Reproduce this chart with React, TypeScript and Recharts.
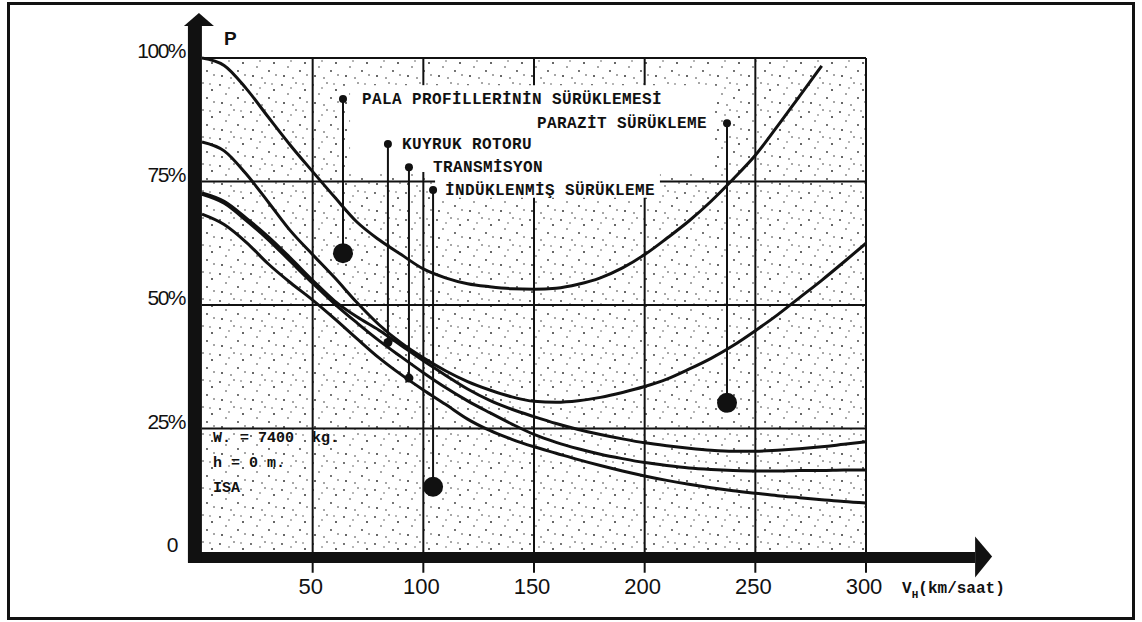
import React from 'react';
import { LineChart, Line, XAxis, YAxis, ReferenceLine, ReferenceArea, ReferenceDot } from 'recharts';

// V_H (km/saat)
const speeds = [0, 10, 20, 30, 40, 50, 60, 70, 80, 90, 100, 110, 120, 130, 140, 150, 160, 170, 180, 190, 200, 210, 220, 230, 240, 250, 260, 270, 280, 290, 300];

// P (%) - curves, top to bottom
const toplam = [100, 98.5, 93.8, 88, 82.3, 77, 71.8, 66.8, 63.2, 60.2, 57.3, 55.5, 54.3, 53.7, 53.3, 53.2, 53.4, 54.2, 55.5, 57.5, 60.2, 63.5, 67, 71, 75.5, 80.3, 86.2, 92.3, 98.4, null, null];
const parazitUst = [83, 81.2, 76.5, 70.8, 65, 60.2, 55.5, 50.5, 46, 42.3, 39.3, 36.7, 34.5, 32.8, 31.4, 30.5, 30.3, 30.6, 31.3, 32.3, 33.5, 35, 37, 39.2, 41.8, 44.8, 48, 51.5, 55, 58.7, 62.5];
const kuyrukUst = [72.7, 71, 67.6, 63.8, 59.5, 55, 50.8, 47.6, 44.9, 41.8, 38.7, 35.8, 33, 30.7, 28.9, 27.4, 26, 24.8, 23.8, 22.9, 22.1, 21.5, 21, 20.6, 20.4, 20.4, 20.6, 20.9, 21.3, 21.8, 22.3];
const transmisyonUst = [72.4, 70.6, 67.1, 63.2, 58.8, 54.4, 50.2, 46.4, 42.8, 39.5, 36.3, 33.3, 30.6, 28.2, 25.9, 23.8, 22.2, 20.9, 19.8, 18.9, 18.1, 17.5, 17, 16.7, 16.5, 16.4, 16.4, 16.5, 16.5, 16.6, 16.6];
const induklenmis = [68.4, 66.3, 62.7, 58.3, 54.5, 51, 47.2, 43.2, 39.3, 35.9, 32.8, 29.9, 26.9, 24.6, 22.8, 21.3, 20, 18.7, 17.5, 16.4, 15.4, 14.5, 13.7, 13, 12.4, 11.9, 11.4, 11, 10.6, 10.2, 9.9];

const xTicks = [50, 100, 150, 200, 250, 300];
const yTicks = [0, 25, 50, 75, 100];
const yTickLabels = ['0', '25%', '50%', '75%', '100%'];

// callouts: label, speed, top dot %, bottom marker %
const notLabels = ['PALA PROFİLLERİNİN SÜRÜKLEMESİ', 'KUYRUK ROTORU', 'TRANSMİSYON', 'İNDÜKLENMİŞ SÜRÜKLEME', 'PARAZİT SÜRÜKLEME'];
const notX = [63.7, 84, 93.5, 104.4, 237.2];
const notTop = [91.7, 82.6, 77.9, 73.3, 86.8];
const notBottom = [60.5, 42.4, 35.2, 13.2, 30.2];
const notBig = [true, false, false, true, true];

const infoLines = ['W. = 7400  kg.', 'h = 0 m.', 'ISA'];

const data = speeds.map((v, i) => ({
  v,
  toplam: toplam[i],
  parazitUst: parazitUst[i],
  kuyrukUst: kuyrukUst[i],
  transmisyonUst: transmisyonUst[i],
  induklenmis: induklenmis[i],
}));

const INK = '#111';
const MONO = "'Liberation Mono', 'DejaVu Sans Mono', monospace";
const SANS = "'Liberation Sans', Arial, sans-serif";

// white label box (in chart units): grid and stipple are left out of it
const boxA = { x1: 66.9, x2: 231.8, y1: 76.9, y2: 94.5 };
const boxB = { x1: 105.3, x2: 206.9, y1: 71.7, y2: 76.9 };

const stippleAreas = [
  { x1: 0, x2: 300, y1: 0, y2: boxB.y1 },
  { x1: 0, x2: boxB.x1, y1: boxB.y1, y2: boxA.y1 },
  { x1: boxB.x2, x2: 300, y1: boxB.y1, y2: boxA.y1 },
  { x1: 0, x2: boxA.x1, y1: boxA.y1, y2: boxA.y2 },
  { x1: boxA.x2, x2: 300, y1: boxA.y1, y2: boxA.y2 },
  { x1: 0, x2: 300, y1: boxA.y2, y2: 100 },
];

// vertical grid line pieces (skip the label box)
const vGrid = (t: number) => {
  if (t > boxA.x1 && t < boxA.x2) {
    const low = t > boxB.x1 && t < boxB.x2 ? boxB.y1 : boxA.y1;
    return [[0, low], [boxA.y2, 100]];
  }
  return [[0, 100]];
};
const hGrid = (t: number) => {
  if (t > boxB.y1 && t < boxB.y2) return [[0, boxB.x1], [boxB.x2, 300]];
  return [[0, 300]];
};

const stippleDots = [
  [3, 4, 0.9], [17, 2, 0.8], [26, 9, 1], [9, 13, 0.8], [21, 17, 0.9],
  [5, 22, 1], [14, 24, 0.8], [28, 21, 0.8], [12, 7, 0.7], [24, 3, 0.7],
];

const noteDx = [19, 14, 24, 12, -20];

const XTick = (props: any) => (
  <text x={props.x - 2} y={props.y + 42} textAnchor="middle" fontFamily={SANS} fontSize={22} fill={INK}>
    {props.payload.value}
  </text>
);

const YTick = (props: any) => (
  <text
    x={props.x - (props.payload.value === 0 ? 25 : 17)}
    y={props.y}
    textAnchor="end"
    fontFamily={SANS}
    fontSize={21}
    letterSpacing={-1.5}
    fill={INK}
  >
    {yTickLabels[yTicks.indexOf(props.payload.value)]}
  </text>
);

export default function App() {
  const curves = ['toplam', 'parazitUst', 'kuyrukUst', 'transmisyonUst', 'induklenmis'];
  return (
    <div style={{ position: 'absolute', left: 0, top: 0, width: 1142, height: 622, background: '#fff' }}>
      <div style={{ position: 'absolute', left: 7, top: 2, width: 1122, height: 612, border: `3px solid ${INK}` }} />
      <div style={{ position: 'absolute', left: 0, top: 0 }}>
        <LineChart width={1142} height={622} data={data} margin={{ top: 58, right: 276, bottom: 30, left: 142 }}>
          <defs>
            <pattern id="stipple" width={31} height={27} patternUnits="userSpaceOnUse">
              {stippleDots.map(([x, y, r], i) => (
                <circle key={i} cx={x} cy={y} r={r} fill="#333" />
              ))}
            </pattern>
          </defs>
          <XAxis
            dataKey="v"
            type="number"
            domain={[0, 300]}
            ticks={xTicks}
            axisLine={false}
            tickLine={false}
            tickSize={0}
            tickMargin={0}
            height={40}
            tick={<XTick />}
          />
          <YAxis
            type="number"
            domain={[0, 100]}
            ticks={yTicks}
            axisLine={false}
            tickLine={false}
            tickSize={0}
            tickMargin={0}
            width={60}
            tick={<YTick />}
          />
          {stippleAreas.map((a, i) => (
            <ReferenceArea key={'st' + i} {...a} fill="url(#stipple)" fillOpacity={1} stroke="none" />
          ))}
          {xTicks.map((t) =>
            vGrid(t).map(([a, b], j) => (
              <ReferenceLine
                key={'gx' + t + '-' + j}
                segment={[{ x: t, y: a }, { x: t, y: b }]}
                stroke={INK}
                strokeWidth={2}
              />
            ))
          )}
          {yTicks.slice(1).map((t) =>
            hGrid(t).map(([a, b], j) => (
              <ReferenceLine
                key={'gy' + t + '-' + j}
                segment={[{ x: a, y: t }, { x: b, y: t }]}
                stroke={INK}
                strokeWidth={2}
              />
            ))
          )}
          {xTicks.map((t) => (
            <ReferenceLine
              key={'tk' + t}
              segment={[{ x: t, y: 0 }, { x: t, y: -4.2 }]}
              stroke={INK}
              strokeWidth={2}
              ifOverflow="visible"
            />
          ))}

          {curves.map((k) => (
            <Line
              key={k}
              dataKey={k}
              type="monotone"
              stroke={INK}
              strokeWidth={3}
              dot={false}
              activeDot={false}
              connectNulls={false}
              isAnimationActive={false}
            />
          ))}

          {/* thick axes with arrows */}
          <ReferenceLine
            segment={[{ x: -6.3, y: -1.1 }, { x: 349.3, y: -1.1 }]}
            stroke={INK}
            strokeWidth={11}
            ifOverflow="visible"
          />
          <ReferenceLine
            segment={[{ x: -3.2, y: -2.2 }, { x: -3.2, y: 106.5 }]}
            stroke={INK}
            strokeWidth={14}
            ifOverflow="visible"
          />
          <ReferenceDot
            x={349.3}
            y={-1.1}
            ifOverflow="visible"
            shape={(p: any) => (
              <g>
                <polygon points={`${p.cx},${p.cy - 21} ${p.cx + 17},${p.cy - 1} ${p.cx},${p.cy + 20}`} fill={INK} />
                <text x={p.cx - 73} y={p.cy + 36} fontFamily={MONO} fontSize={16} fontWeight="bold" fill={INK}>
                  V
                  <tspan fontSize={11} dy={5}>H</tspan>
                  <tspan dy={-5}>(km/saat)</tspan>
                </text>
              </g>
            )}
          />
          <ReferenceDot
            x={-3.2}
            y={106.5}
            ifOverflow="visible"
            shape={(p: any) => (
              <g>
                <polygon points={`${p.cx - 11},${p.cy} ${p.cx + 4},${p.cy - 13} ${p.cx + 19},${p.cy}`} fill={INK} />
                <text x={p.cx + 29} y={p.cy + 19} fontFamily={SANS} fontSize={19} fontWeight="bold" fill={INK}>P</text>
              </g>
            )}
          />

          {/* callout pointers */}
          {notX.map((x, i) => (
            <ReferenceLine
              key={'pl' + i}
              segment={[{ x, y: notTop[i] }, { x, y: notBottom[i] }]}
              stroke={INK}
              strokeWidth={2}
            />
          ))}
          {notX.map((x, i) => (
            <ReferenceDot
              key={'pb' + i}
              x={x}
              y={notBottom[i]}
              r={notBig[i] ? 10 : 4.5}
              fill={INK}
              stroke="none"
            />
          ))}
          {notX.map((x, i) => (
            <ReferenceDot
              key={'pt' + i}
              x={x}
              y={notTop[i]}
              shape={(p: any) => (
                <g>
                  <circle cx={p.cx} cy={p.cy} r={4} fill={INK} />
                  <text
                    x={p.cx + noteDx[i]}
                    y={p.cy + 5}
                    textAnchor={noteDx[i] < 0 ? 'end' : 'start'}
                    fontFamily={MONO}
                    fontSize={16}
                    fontWeight="bold"
                    letterSpacing={0.4}
                    fill={INK}
                  >
                    {notLabels[i]}
                  </text>
                </g>
              )}
            />
          ))}

          <ReferenceDot
            x={5}
            y={22.3}
            shape={(p: any) => (
              <g>
                {infoLines.map((t, i) => (
                  <text key={i} x={p.cx} y={p.cy + i * 25} fontFamily={MONO} fontSize={15} fontWeight="bold" fill={INK} style={{ whiteSpace: 'pre' }}>
                    {t}
                  </text>
                ))}
              </g>
            )}
          />
        </LineChart>
      </div>
    </div>
  );
}
